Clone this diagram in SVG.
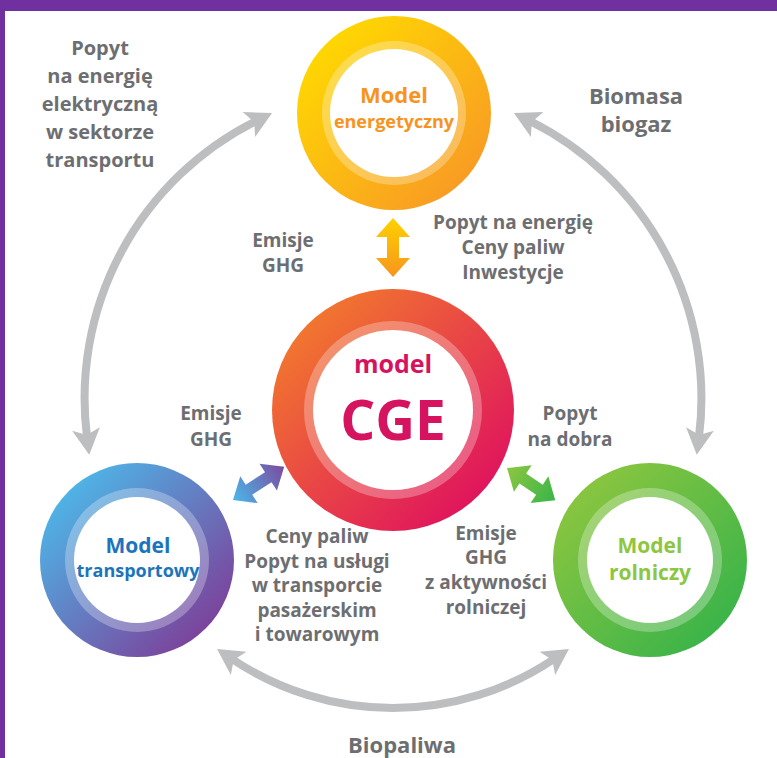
<svg xmlns="http://www.w3.org/2000/svg" width="777" height="758" viewBox="0 0 777 758">
<defs>
<style>
.lbl{font-family:"Open Sans","Liberation Sans",sans-serif;font-weight:700;fill:#6D6E71;text-anchor:middle}
.outer{font-size:22px}
.tl{font-size:20px}
.inner{font-size:19px}
.ttl{font-family:"Open Sans","Liberation Sans",sans-serif;font-weight:700;text-anchor:middle}
.gray{fill:none;stroke:#BCBEC0;stroke-width:8;marker-start:url(#ah);marker-end:url(#ah)}
.band{fill:#FFFFFF;fill-opacity:0.28}
</style>
<linearGradient id="gE" x1="0" y1="0" x2="1" y2="1"><stop offset="0.1" stop-color="#FFDA00"/><stop offset="1" stop-color="#F7902A"/></linearGradient>
<linearGradient id="gC" x1="0" y1="0" x2="1" y2="1"><stop offset="0.1" stop-color="#F27B2C"/><stop offset="0.9" stop-color="#DF0F60"/></linearGradient>
<linearGradient id="gT" x1="0" y1="0" x2="1" y2="1"><stop offset="0.1" stop-color="#4CBAEA"/><stop offset="0.9" stop-color="#7E3C97"/></linearGradient>
<linearGradient id="gR" x1="0" y1="0" x2="1" y2="1"><stop offset="0.1" stop-color="#8DC63F"/><stop offset="0.9" stop-color="#37B34A"/></linearGradient>
<linearGradient id="aO" x1="0" y1="0" x2="0" y2="1"><stop offset="0" stop-color="#FFD200"/><stop offset="1" stop-color="#F7941D"/></linearGradient>
<linearGradient id="aB" x1="0" y1="0" x2="1" y2="0"><stop offset="0" stop-color="#4BB7E9"/><stop offset="1" stop-color="#7C4A9E"/></linearGradient>
<linearGradient id="aG" x1="0" y1="0" x2="1" y2="0"><stop offset="0" stop-color="#8DC63F"/><stop offset="1" stop-color="#39B54A"/></linearGradient>
<marker id="ah" markerUnits="userSpaceOnUse" viewBox="-10 -16 30 32" markerWidth="30" markerHeight="32" refX="0" refY="0" orient="auto-start-reverse">
<path d="M18,0 L-8,-14 L-2,0 L-8,14 Z" fill="#BCBEC0"/>
</marker>
</defs>
<rect x="0" y="0" width="777" height="758" fill="#FFFFFF"/>
<rect x="0" y="0" width="777" height="11" fill="#7030A0"/>
<rect x="0" y="0" width="5" height="758" fill="#7030A0"/>

<g id="connectors">
<path class="gray" d="M87,437 A310,310 0 0 1 256,121"/>
<path class="gray" d="M530,121 A310,310 0 0 1 699,437"/>
<path class="gray" d="M232,659 A289,289 0 0 0 554,659"/>
<polygon fill="url(#aO)" points="393,218 410,237 399,237 399,258 410,258 393,277 376,258 387,258 387,237 376,237"/>
<polygon fill="url(#aB)" transform="translate(233,500) rotate(-32.9)" points="0,0 19,-16 19,-6 42,-6 42,-16 61,0 42,16 42,6 19,6 19,16"/>
<polygon fill="url(#aG)" transform="translate(507,468) rotate(33.7)" points="0,0 19,-16 19,-6 39,-6 39,-16 58,0 39,16 39,6 19,6 19,16"/>
</g>

<g id="node-energetyczny">
<circle cx="394" cy="113" r="97" fill="url(#gE)"/>
<circle cx="394" cy="113" r="72" class="band"/>
<circle cx="394" cy="113" r="64" fill="#FFFFFF"/>
<text class="ttl" x="394" y="103" font-size="22" fill="#F7941D">Model</text>
<text class="ttl" x="394" y="128" font-size="18" fill="#F7941D">energetyczny</text>
</g>

<g id="node-cge">
<circle cx="393" cy="410" r="121" fill="url(#gC)"/>
<circle cx="393" cy="410" r="89" class="band"/>
<circle cx="393" cy="410" r="80" fill="#FFFFFF"/>
<text class="ttl" x="393" y="373" font-size="25" fill="#D6135F">model</text>
<text class="ttl" x="393" y="440" font-size="55" fill="#D6135F">CGE</text>
</g>

<g id="node-transportowy">
<circle cx="137" cy="560" r="97" fill="url(#gT)"/>
<circle cx="137" cy="560" r="72" class="band"/>
<circle cx="137" cy="560" r="63" fill="#FFFFFF"/>
<text class="ttl" x="138" y="553" font-size="21" fill="#1C75BC">Model</text>
<text class="ttl" x="138" y="577" font-size="18" fill="#1C75BC">transportowy</text>
</g>

<g id="node-rolniczy">
<circle cx="650" cy="560" r="97" fill="url(#gR)"/>
<circle cx="650" cy="560" r="72" class="band"/>
<circle cx="650" cy="560" r="63" fill="#FFFFFF"/>
<text class="ttl" x="650" y="553" font-size="21" fill="#8DC63F">Model</text>
<text class="ttl" x="650" y="580" font-size="21" fill="#8DC63F">rolniczy</text>
</g>

<g id="labels">
<text class="lbl tl"><tspan x="100" y="55">Popyt</tspan><tspan x="100" y="83">na energię</tspan><tspan x="100" y="111">elektryczną</tspan><tspan x="100" y="139">w sektorze</tspan><tspan x="100" y="167">transportu</tspan></text>
<text class="lbl outer"><tspan x="636" y="104">Biomasa</tspan><tspan x="636" y="132">biogaz</tspan></text>
<text class="lbl inner"><tspan x="283" y="247">Emisje</tspan><tspan x="283" y="272">GHG</tspan></text>
<text class="lbl inner"><tspan x="513" y="229">Popyt na energię</tspan><tspan x="513" y="254">Ceny paliw</tspan><tspan x="513" y="279">Inwestycje</tspan></text>
<text class="lbl inner"><tspan x="211" y="420">Emisje</tspan><tspan x="211" y="446">GHG</tspan></text>
<text class="lbl inner"><tspan x="570" y="420">Popyt</tspan><tspan x="570" y="446">na dobra</tspan></text>
<text class="lbl inner"><tspan x="317" y="543">Ceny paliw</tspan><tspan x="317" y="568">Popyt na usługi</tspan><tspan x="317" y="592">w transporcie</tspan><tspan x="317" y="617">pasażerskim</tspan><tspan x="317" y="641">i towarowym</tspan></text>
<text class="lbl inner"><tspan x="486" y="540">Emisje</tspan><tspan x="486" y="564">GHG</tspan><tspan x="486" y="589">z aktywności</tspan><tspan x="486" y="614">rolniczej</tspan></text>
<text class="lbl outer" x="402" y="753">Biopaliwa</text>
</g>
</svg>
